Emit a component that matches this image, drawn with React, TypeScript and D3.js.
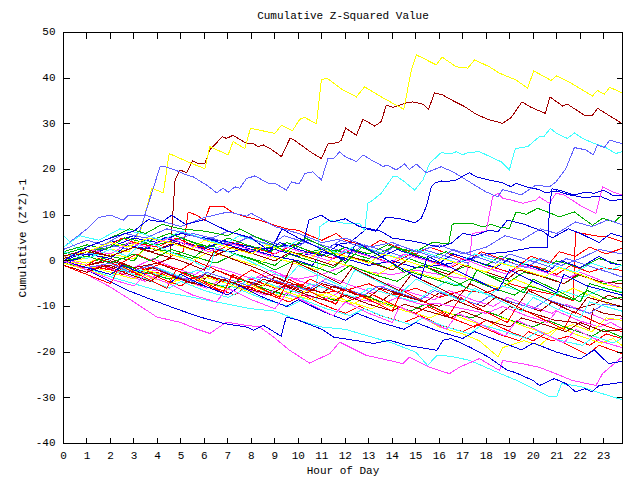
import * as d3 from "d3";
import { useEffect } from "react";

type Pt = [number, number];

// axis values
const HOURS = d3.range(0, 24);
const Y_TICKS = d3.range(-40, 51, 10);
const X_MAX = 23.8;

// series: [hour, cumulative value]
const Y1: Pt[] = [[0,0],[1,0.5],[2,2.5],[2.8,2],[3.33,7.4],[3.76,15.9],[4.25,14.9],[4.5,23.5],[5.46,21.3],[6.02,20.2],[6.23,25],[7.01,23.2],[7.22,26.1],[7.72,24.6],[7.96,29],[8.36,28.6],[9,27.9],[9.28,29.7],[9.75,28.5],[10.06,31],[10.27,31.4],[10.77,30],[10.98,39.6],[11.22,40],[11.9,37.4],[12.47,35.9],[12.82,38.1],[13.46,36.1],[14.02,34.5],[14.49,33.2],[14.81,41.8],[15.02,45.1],[15.3,44.4],[15.87,42.9],[16.12,44.6],[16.72,42.5],[17.21,42.2],[17.5,44],[18.13,42.5],[18.56,41.1],[19.27,39.6],[19.76,37.8],[20.02,41.6],[20.76,39.5],[20.99,40.5],[21.61,38.9],[22.52,36.1],[22.74,37.3],[23.02,36.5],[23.26,38],[23.77,36.8]];
const D1: Pt[] = [[0,0],[1,-1],[2,0],[3,-1.5],[4,-0.5],[4.55,0.5],[4.61,6.7],[4.75,17.7],[4.96,19.9],[5.24,19.3],[5.5,21.9],[5.74,21.3],[6.02,21.3],[6.23,24.3],[6.77,27.2],[6.94,26.8],[7.22,27.5],[7.79,25.7],[8.07,25.7],[8.29,25],[8.5,25.4],[8.8,24.6],[9.28,22.8],[9.64,26.8],[9.78,26.6],[10.56,23.7],[10.98,22.4],[11.26,25.6],[11.69,25.9],[11.83,26.4],[12.01,29.1],[12.47,27.5],[12.75,31],[13.25,29.5],[13.53,30.5],[13.74,34.1],[14.02,33.6],[14.59,34.6],[14.87,34.8],[15.3,34.3],[15.54,33.2],[15.8,36.8],[16.15,36.3],[16.57,35.1],[17.07,33.8],[17.57,32.1],[18.06,31],[18.7,30.1],[19.06,31.4],[19.52,34.8],[19.91,33.6],[20.51,32.3],[20.71,35.9],[21.25,33.9],[21.46,34.3],[22.17,31.9],[22.52,31.9],[22.74,33.4],[23.77,30.1]];
const L1: Pt[] = [[0,1],[1,1.5],[2,3],[2.7,3.5],[3,5],[3.26,6.7],[4.11,20.6],[4.32,20.6],[4.75,19.9],[5.24,18.8],[5.52,18.4],[6.09,16.6],[6.52,14.9],[6.8,15.9],[7.01,15],[7.3,16.2],[7.51,15.9],[7.79,18],[8.15,18.6],[8.71,17],[9,17],[9.49,15.5],[9.71,17.3],[10.03,16.8],[10.27,19.1],[10.62,19.5],[10.98,17.7],[11.26,22.4],[11.5,22.4],[11.76,23.9],[11.97,22.9],[12.47,21.7],[12.75,23.2],[13.1,22.1],[13.6,20.7],[13.8,20.9],[14.17,19.9],[14.52,21.2],[14.73,20],[15.02,21.2],[15.44,19.3],[16.08,20.6],[16.57,19.5],[17.28,17.3],[17.99,15.1],[18.49,14],[18.7,15.6],[19.06,15.1],[19.48,14.4],[20.12,16.6],[20.68,16.2],[20.97,17.3],[21.39,20.2],[21.75,24.8],[22.24,24.3],[22.55,23.2],[22.74,25.4],[23.02,24.8],[23.26,26.4],[23.77,25.7]];
const C1: Pt[] = [[0,5.5],[0.5,3],[1,2],[2,0],[3,-2],[4,-3],[5,-4],[6,-5],[7,-5.5],[8,-6.5],[9,-7],[10,-8],[10.75,-8.7],[10.9,7.4],[11.3,8.9],[12,8.2],[12.6,8.2],[12.82,6.7],[12.96,12.6],[13.17,13.3],[13.53,14.8],[14.02,18.4],[14.2,18.5],[14.52,17.3],[14.95,15.5],[15.3,17.7],[15.58,21.3],[16.08,23.7],[16.5,23.4],[16.72,23.9],[17,23.2],[17.2,23.7],[17.71,23.9],[18.13,22.9],[18.63,21.7],[18.98,19.9],[19.24,24.6],[19.76,25],[20.26,27.2],[20.45,27.2],[20.73,29],[20.99,27.9],[21.46,26.8],[21.75,28],[22.1,26.8],[22.6,25.7],[23.02,25],[23.52,23.5],[23.77,23.9]];
const B1: Pt[] = [[0,0.5],[1,2],[2,1],[3,3],[4,2.5],[5,4],[6,3],[7,2],[8,2.5],[9,1],[10,0],[10.6,-1],[11,2],[11.5,3.5],[12.2,4],[12.9,7],[13.3,6.5],[13.74,9.6],[14.45,9.1],[14.95,8.3],[15.23,9.3],[15.44,11.8],[15.66,16.2],[15.8,17],[16.08,17.5],[16.22,17.3],[16.72,17.7],[17.28,19.3],[17.57,18.4],[18.13,17.7],[18.7,17.1],[19.06,16.2],[19.27,17],[19.69,16.2],[20.26,15.6],[20.51,14.9],[21,15.3],[21.5,14.5],[22.2,13.8],[22.8,14.2],[23.3,13.2],[23.77,13.4]];
const B2: Pt[] = [[0,0],[1,2],[2,4],[3,5.5],[4,4.5],[5,6],[6,5],[7,3.5],[8,2],[9,3],[10.2,3.8],[10.45,8.9],[10.98,10],[11.4,8.5],[12,9.2],[12.6,7.5],[13.5,6.5],[14,5],[15,4.2],[16,3],[16.5,3.8],[17,6],[17.5,5.5],[18.1,6.7],[18.5,6.4],[18.9,8.9],[19.6,8],[20.4,6.5],[20.8,5],[21.5,7],[22,6],[22.8,4],[23.3,6],[23.77,5.3]];
const B3: Pt[] = [[0,-0.5],[1,1],[2,3],[3,5],[4,4],[5,6],[6,5],[7,4],[8,3],[9,2.5],[10,1],[11,2],[12,0.5],[13,-1],[14,0],[15,-1.5],[16,-1],[17,0],[18,1.5],[19,2],[20,3],[20.6,3],[20.7,12],[20.8,15.8],[21.3,15.2],[21.7,14.4],[22.2,15],[22.6,14.8],[23,15.5],[23.4,14.3],[23.77,14.3]];
const G1: Pt[] = [[0,1],[1,2],[2,3],[3,4],[4,3.5],[5,5],[6,3],[7,4],[8,2.5],[9,3],[10,1.5],[11,2.5],[12,2],[13,0.5],[14,3],[15,2],[15.7,4],[16.4,3.8],[16.55,8],[16.72,8.2],[17.42,8.2],[17.85,7.4],[18.2,8],[18.56,7.4],[18.98,7.1],[19.27,10.7],[19.7,10.2],[20.19,11.5],[20.76,10.4],[21.11,9.6],[21.75,10.7],[22.52,7.8],[22.95,9.3],[23.45,8.5],[23.77,10]];
const M1: Pt[] = [[0,0],[1,-1.5],[2,-1],[3,-3],[4,-2],[5,-4],[6,-3.5],[7,-5],[8,-4],[9,-3],[10,-4],[11,-3],[12,-1],[13,-2.5],[14,-3],[15,-2],[16,-3],[17.1,-4],[17.3,0.5],[17.4,6],[18,6.5],[18.27,14],[18.49,14.8],[18.7,13.7],[19.06,13.3],[19.55,12.6],[20.12,13.3],[20.26,14],[20.68,12.6],[20.97,14.8],[21.32,14.4],[22.1,11.8],[22.67,10.4],[22.95,16.2],[23.37,15.1],[23.77,14.4]];
const C2: Pt[] = [[0,-0.5],[1,-2],[2,-3.5],[3,-5],[4,-6.5],[5,-7.5],[6,-8.5],[7,-9.5],[8,-10.5],[9,-11],[10,-13],[11,-14.5],[12,-15],[13,-16.5],[14,-18],[15,-20],[15.5,-22.9],[15.9,-20.7],[16.5,-20.9],[17.3,-21.8],[18.6,-24.7],[19.3,-26.2],[19.9,-27.7],[20.7,-29.8],[21,-29.8],[21.2,-26.9],[22,-27.5],[22.95,-29.1],[23.77,-30.4]];
const B5: Pt[] = [[0,0],[1,-2],[2.7,-6.4],[3.8,-8.6],[4.8,-10.5],[5.8,-12.3],[6.9,-13.8],[7.8,-14.5],[8.1,-15.2],[8.5,-14.1],[9.27,-16.5],[9.48,-12.3],[10,-13],[11,-15],[11.5,-16.7],[12.5,-17.5],[13.2,-18.1],[13.9,-17.4],[14.6,-18.5],[15.9,-19.6],[16.15,-17.4],[16.5,-17],[17.3,-18.9],[18.1,-21.1],[18.9,-24],[19.2,-24.4],[20,-26.2],[20.26,-27.3],[20.9,-25.8],[21.4,-26.9],[21.8,-28.7],[22.2,-28],[22.5,-28.7],[22.8,-27.3],[23.77,-26.6]];
const M4: Pt[] = [[0,-1],[1,-3],[1.98,-5.7],[3,-9],[3.97,-12.3],[5,-13.5],[5.7,-15],[6.23,-15.9],[6.94,-13.4],[7.6,-14],[8.36,-14.5],[8.9,-16.5],[9.63,-19.6],[10.48,-22.4],[11.34,-20.3],[11.76,-17.8],[12.89,-20.7],[13.6,-21.5],[14.45,-22.5],[14.73,-21.1],[15.58,-23.3],[16.43,-24.7],[16.86,-23.3],[17.71,-21.4],[18.56,-24],[18.7,-21.8],[19.5,-22.5],[20.26,-23.3],[21,-24.8],[21.67,-26.2],[22.67,-27.3],[22.95,-24.7],[23.77,-21.1]];
const R1: Pt[] = [[0,0],[1,-1],[2,-2],[3,-2.5],[4,-1],[4.6,1],[5.1,2],[5.2,6.7],[5.31,10.7],[5.67,10],[6.02,8.8],[6.23,12],[6.8,12],[7.22,10.5],[7.79,9.6],[8.36,8.9],[9,7.8],[9.5,7],[10,6.7],[10.5,5.5],[11,4.5],[11.6,6],[12,4.5],[13,3],[13.5,4.5],[14.2,3],[15,1.5],[15.6,3],[16.4,1.5],[17.2,0],[17.8,2],[18.6,0.5],[19.4,-1],[19.9,1],[20.7,-0.5],[21.1,2],[21.8,1],[22.4,3],[23.1,1.5],[23.77,2.7]];
const L2: Pt[] = [[0,3],[1,7],[1.5,9.5],[2,10],[2.55,8.9],[2.76,10],[3.5,10],[4.3,8.5],[5,7.5],[6,9.5],[7,10.7],[7.8,9.8],[8,10.4],[9,7.5],[10,6],[11,4],[12,5],[13,3],[14,4],[15,2],[16,3.5],[17,1.5],[18,3],[18.8,5.5],[19.5,4.5],[20.3,7],[21,6],[21.8,8.5],[22.5,7.5],[23.2,9],[23.77,7.9]];
const R2: Pt[] = [[0,-0.5],[1,-2],[2,-1],[3,-3],[4,-2.5],[5,-4.5],[6,-3],[7,-5],[8,-4],[9,-6],[10,-5],[11,-7],[12,-6.5],[13,-5],[14,-7.5],[15,-6],[16,-8],[17,-6.5],[18,-7],[19,-5],[20,-6.5],[21,-7.5],[21.7,-8.7],[21.8,6.3],[22.6,5.5],[23.2,5.2],[23.77,4.2]];
const R3: Pt[] = [[0,0.5],[1,2],[2,3.5],[2.5,5],[3,4],[4,3],[4.8,5],[5.5,3.5],[6.5,2],[7.2,4],[8,3],[9,1.5],[9.8,3.5],[10.5,2],[11.5,0.5],[12.3,2.5],[13,1],[14,-0.5],[14.8,1.5],[15.6,0],[16.5,-1.5],[17.2,0.5],[18,-1],[19,-2.5],[19.5,-0.5],[20.3,-1.5],[21,-3],[21.6,-1],[22.4,-2.5],[23,-1.5],[23.77,-2.1]];
const R4: Pt[] = [[0,-1],[1,-2.5],[1.6,-1],[2.5,-3],[3.3,-1.5],[4.2,-4],[5,-5.5],[5.6,-3.5],[6.5,-6],[7.3,-7.5],[7.8,-5.5],[8.8,-7.5],[9.6,-9],[10.2,-7.5],[11,-9.5],[12,-11.5],[12.6,-10],[13.5,-12],[14.5,-13.5],[15.2,-12],[16,-14],[17,-15.5],[17.6,-14],[18.5,-16],[19.4,-17.5],[19.8,-15.5],[20.8,-17.5],[21.5,-16.5],[22.4,-18.5],[23.1,-16],[23.77,-17]];
const R5: Pt[] = [[0,0],[0.8,-1.5],[1.5,0.5],[2.3,-1],[3.1,1.5],[4,-0.5],[5,-2],[5.6,0],[6.5,-2],[7.4,-4],[8,-2],[9,-4.5],[10,-6],[10.5,-4],[11.5,-6.5],[12.3,-8.5],[13,-7],[14,-9.5],[15,-11.5],[15.5,-10],[16.5,-12.5],[17.5,-14.5],[18,-13],[19,-15.5],[20,-17.5],[20.5,-16],[21.5,-18.5],[22.3,-20.5],[22.8,-18.5],[23.77,-20.3]];
const R6: Pt[] = [[0,-1],[1,-3],[2,-5],[2.4,-1],[3.4,-3.5],[4.4,-6],[4.8,-2],[5.8,-4.5],[6.8,-7],[7.2,-3],[8.2,-5.5],[9.2,-8],[9.6,-4],[10.6,-7],[11.6,-9.5],[12,-6],[13,-8.5],[14,-11],[14.4,-6.5],[15.4,-9],[16.4,-12],[16.9,-8],[17.9,-11],[18.9,-13.5],[19.3,-10],[20.3,-12.5],[21.3,-15],[21.7,-11],[22.7,-13.5],[23.77,-15.5]];
const G2: Pt[] = [[0,0.5],[1,-0.5],[2,1],[3,0],[3.5,3],[4.5,2],[5.5,0.5],[6.2,3.5],[7,2],[8,0.5],[9,-1],[9.6,1.5],[10.5,0],[11.5,-1.5],[12,1],[13,0],[14,-2],[14.7,0.5],[15.5,-1],[16.5,-2.5],[17.2,-1],[18,-3],[19,-4.5],[19.6,-2.5],[20.5,-3.5],[21.3,-5],[22,-3],[23,-5],[23.77,-4.2]];
const G3: Pt[] = [[0,-0.5],[1,-1.5],[2,-3],[2.6,-1],[3.5,-2.5],[4.5,-4],[5.2,-2.5],[6,-4.5],[7,-6],[7.5,-4],[8.5,-6],[9.5,-7.5],[10,-5.5],[11,-8],[12,-9],[12.8,-7.5],[13.8,-9.5],[14.8,-11],[15.4,-9.5],[16.4,-11.5],[17.4,-12.5],[18,-11],[19,-13],[20,-14.5],[20.6,-13],[21.6,-15],[22.5,-16.5],[23,-15],[23.77,-16.7]];
const G4: Pt[] = [[0,2],[1,3.5],[1.8,2.5],[2.6,5],[3.5,4],[4.5,6],[5.3,4.5],[6.2,3],[7,5],[7.8,3.5],[8.8,2],[9.5,4],[10.3,2.5],[11.2,1],[12,3],[13,1.5],[13.8,3.5],[14.6,2],[15.5,0.5],[16.3,2],[17.2,0.5],[18,-1],[18.6,1],[19.5,-0.5],[20.4,-2],[21,0],[22,-1.5],[22.8,0.5],[23.77,-1]];
const G5: Pt[] = [[0,0],[1,1],[2,-0.5],[3,1.5],[3.7,0],[4.6,2.5],[5.5,1],[6.5,-0.5],[7.3,1.5],[8.2,0],[9,-2],[9.8,0],[10.8,-1.5],[11.6,-3],[12.2,-1],[13.2,-3],[14.2,-4.5],[14.8,-2.5],[15.8,-4],[16.7,-5.5],[17.3,-4],[18.3,-6],[19.2,-7.5],[19.8,-5.5],[20.8,-7],[21.7,-8.5],[22.3,-6.5],[23.2,-8.5],[23.77,-8]];
const G6: Pt[] = [[0,1.5],[1,3],[2,5],[2.8,7],[3.5,6],[4.2,8],[5,7],[6,6.5],[7,5.5],[7.5,7],[8.5,4.5],[9.5,2],[10.3,5],[11.3,2.5],[12,-0.5],[12.7,3],[13.7,0.5],[14.5,-2.5],[15.3,-1],[16.3,-3.5],[17.2,-6],[17.6,-2],[18.6,-4.5],[19.6,-7],[20,-4],[21,-6.5],[22,-9],[22.4,-5],[23.77,-7]];
const B4: Pt[] = [[0,-0.5],[1,1.5],[2,0.5],[2.7,3.5],[3.5,2.5],[4.3,5],[5,4],[6,2.5],[6.8,4.5],[7.7,3],[8.6,1.5],[9.2,4],[10,2.5],[11,1],[11.7,3.5],[12.5,2],[13.4,0.5],[14.2,2.5],[15,1],[16,-0.5],[16.6,1.5],[17.5,0],[18.4,-1.5],[19,0.5],[19.8,-1],[20.6,-2.5],[21.2,0],[22,-1.5],[22.8,1],[23.3,-0.5],[23.77,-1]];
const B6: Pt[] = [[0,0],[1,-1.5],[2,-3],[2.5,-1],[3.5,-3],[4.5,-5],[5,-3],[6,-5.5],[7,-7.5],[7.5,-5.5],[8.5,-8],[9.5,-10],[10,-8.5],[11,-11],[12,-13],[12.5,-11.5],[13.5,-13.5],[14.5,-15],[15,-13.5],[16,-15.5],[17,-17],[17.5,-15.5],[18.5,-17.5],[19.5,-19.5],[20,-18],[21,-20],[22,-21.5],[22.6,-19.5],[23.2,-22.5],[23.77,-22]];
const B7: Pt[] = [[0,0],[1,3],[2,5],[3,6.5],[3.6,9],[4.2,8.5],[4.6,10],[5.2,8],[6,9],[7,6.5],[8,5],[8.8,2],[9.3,7],[10,5],[11,2.5],[12,0],[12.5,4],[13.5,1],[14.5,-2],[15.2,-4],[15.5,1],[16.5,-1.5],[17.5,-4],[18.5,-6.5],[19,-2],[20,-4.5],[21,-7],[21.3,-3],[22.3,-5.5],[23.77,-7.5]];
const M2: Pt[] = [[0,0.5],[1,-1],[2,0.5],[3,-1.5],[3.8,0.5],[4.7,-1.5],[5.6,-3],[6.2,-1],[7.2,-2.5],[8.1,-4],[8.8,-2],[9.8,-4],[10.7,-5.5],[11.3,-3.5],[12.3,-5.5],[13.2,-7],[13.8,-5],[14.8,-7],[15.8,-8.5],[16.4,-6.5],[17.4,-8.5],[18.3,-10],[18.9,-8],[19.9,-10],[20.8,-11.5],[21.4,-9.5],[22.4,-11.5],[23.1,-13],[23.77,-12.7]];
const M3: Pt[] = [[0,-1],[1,-2.5],[1.7,-1],[2.6,-3],[3.5,-4.5],[4.2,-2.5],[5.2,-4.5],[6.1,-6],[6.7,-4],[7.7,-6],[8.6,-7.5],[9.2,-5.5],[10.2,-7.5],[11.1,-8.5],[11.7,-7],[12.7,-8.5],[13.6,-9.5],[14.2,-8],[15.2,-9.5],[16,-9.4],[17,-10.5],[18,-11.5],[18.7,-10],[19.7,-12],[20.6,-13.5],[21,-11],[21.9,-13],[22.8,-14.5],[23.3,-13.5],[23.77,-14.8]];
const M5: Pt[] = [[0,1],[1,2.5],[2,1.5],[2.8,4],[3.6,3],[4.5,5],[5.3,3.5],[6.2,2],[7,4],[7.9,2.5],[8.8,1],[9.5,3],[10.4,1.5],[11.3,0],[12,2.5],[13,1],[13.9,-0.5],[14.5,1.5],[15.5,0],[16.4,-1.5],[17,0.5],[18,-1.5],[18.9,-3],[19.5,-1],[20.5,-2.5],[21.4,-4],[22,-2.5],[23,-4.5],[23.77,-6]];
const M6: Pt[] = [[0,0],[1,-2],[2,-4],[3,-5.5],[3.5,-3],[4.5,-5],[5.5,-7.5],[6.5,-9],[7,-6],[8,-8.5],[9,-10.5],[9.5,-7],[10.5,-9.5],[11.5,-12],[12,-9],[13,-11.5],[14,-13.5],[14.3,-10],[15.3,-12.5],[16.3,-15],[16.8,-11.5],[17.8,-14],[18.8,-16.5],[19.3,-13],[20.3,-15.5],[21.3,-18],[21.8,-15],[22.8,-17.5],[23.77,-19]];
const C3: Pt[] = [[0,0],[1,-1.5],[2,-0.5],[3,-2.5],[4,-1.5],[5,-3.5],[5.7,-2],[6.6,-4],[7.5,-5.5],[8,-3.5],[9,-5.5],[10,-7],[10.5,-5],[11.5,-6.5],[12.4,-8],[13,-6],[14,-7.5],[15,-9],[15.5,-7],[16.3,-4.5],[17.2,-6],[18.1,-7.5],[18.7,-5.5],[19.7,-7],[20.6,-8.5],[21.2,-6.5],[22.1,-8],[23,-6],[23.77,-6.8]];
const C4: Pt[] = [[0,3],[0.7,5.5],[1.5,4.5],[2.4,7],[3.3,6],[4.2,4.5],[5,6.5],[5.9,5],[6.8,3.5],[7.5,5.5],[8.4,4],[9.3,2.5],[10,4.5],[10.9,3],[11.8,1.5],[12.5,3.5],[13.4,2],[14.3,0.5],[15,2.5],[15.9,1],[16.8,-0.5],[17.5,1.5],[18.4,0],[19.3,-1.5],[20,0.5],[20.9,-1],[21.8,-2.5],[22.5,-0.5],[23.3,-2],[23.77,-1]];
const C5: Pt[] = [[0,0],[1,-1.5],[2,-3.5],[2.5,-2],[3.5,-4],[4.5,-6],[5,-4.5],[6,-6.5],[7,-8],[7.6,-6.5],[8.6,-8.5],[9.6,-10],[10.2,-8.5],[11.2,-10.5],[12.2,-12],[12.8,-10.5],[13.8,-12.5],[14.8,-14],[15.3,-12.5],[16.3,-14.5],[17.3,-16],[17.8,-14],[18.8,-15.5],[19.7,-17],[20.2,-15.5],[21.2,-17.5],[22.1,-18.5],[22.6,-16.5],[23.4,-18],[23.77,-17]];
const C6: Pt[] = [[0,2],[1,0.5],[2,2.5],[2.7,1],[3.5,4.5],[4.5,2],[5.5,0],[6.2,-2],[6.5,3],[7.5,1],[8.5,-1.5],[9.5,-4],[10,-1],[11,-3.5],[12,-6],[12.4,-2],[13.4,-4.5],[14.4,-7],[15,-4],[16,-6.5],[17,-9],[17.5,-6],[18.5,-8.5],[19.5,-11],[20,-8],[21,-10.5],[22,-12.5],[22.4,-9],[23.77,-11]];
const D2: Pt[] = [[0,0],[1,-1],[2,0.5],[3,-1.5],[4,-0.5],[5,-2.5],[6,-4],[6.5,-2],[7.5,-4],[8.5,-5.5],[9,-3.5],[10,-5.5],[11,-7],[11.5,-5.5],[12.5,-7.5],[13.5,-9],[14,-7],[15,-8.5],[16,-10],[16.6,-8.5],[17.6,-10.5],[18.5,-12],[19,-10],[20,-11.5],[20.9,-13],[21.8,-13.5],[22.4,-15],[22.55,-10.5],[23,-11.5],[23.77,-12.1]];
const D3: Pt[] = [[0,-0.5],[1,-2],[2,-1],[3,-3],[3.8,-1.5],[4.7,-3.5],[5.5,-5],[6,-3],[7,-4.5],[8,-6],[8.5,-4],[9.5,-5.5],[10.4,-7],[11,-5],[12,-6.5],[13,-8],[13.5,-6],[14.5,-7.5],[15.4,-9],[16,-7],[17,-8.5],[17.9,-10],[18.4,-8],[19.4,-9.5],[20.3,-11],[20.8,-9],[21.8,-10.5],[22.6,-9.5],[23.2,-7.5],[23.77,-8.5]];
const D4: Pt[] = [[0,0.5],[1,2],[2,1],[3,3],[3.8,2],[4.7,4],[5.5,2.5],[6.4,1],[7.2,3],[8.1,1.5],[9,0],[9.7,2],[10.6,0.5],[11.5,-1],[12.2,1],[13.1,-0.5],[14,-2],[14.6,0],[15.5,-1.5],[16.4,-3],[17,-1],[18,-2.5],[18.9,-4],[19.4,-2],[20.4,-3.5],[21.3,-5],[21.9,-3],[22.8,-4.5],[23.77,-5]];
const D5: Pt[] = [[0,-1],[1,-2.5],[1.8,-1],[2.8,-3],[3.7,-4.5],[4.3,-2.5],[5.3,-4.5],[6.3,-6],[6.8,-4],[7.8,-6],[8.8,-7.5],[9.4,-5.5],[10.4,-7.5],[11.4,-9],[12,-7.5],[13,-9.5],[14,-11],[14.5,-9.5],[15.5,-11],[16.5,-12.5],[17,-11],[18,-13],[19,-14.5],[19.5,-12.5],[20.5,-14],[21.4,-15.5],[22,-13.5],[23,-15.5],[23.77,-15]];
const D6: Pt[] = [[0,1],[1,2.5],[2,1],[3,3],[4,1.5],[5,0],[6,-2],[6.4,2],[7.4,0],[8.4,-2],[9.4,-4.5],[9.8,0],[10.8,-2.5],[11.8,-5],[12.3,-1.5],[13.3,-4],[14.3,-6.5],[14.8,-3],[15.8,-5.5],[16.8,-8],[17.3,-5],[18.3,-7.5],[19.3,-10],[19.8,-6.5],[20.8,-9],[21.8,-11.5],[22.3,-8],[23.77,-10]];
const Y2: Pt[] = [[0,0.5],[1,-0.5],[2,1.5],[3,0.5],[3.6,3],[4.5,1.5],[5.5,0],[6.2,2],[7.2,0.5],[8.2,-1],[8.8,1],[9.8,-0.5],[10.8,-2],[11.4,0],[12.4,-1.5],[13.4,-3],[14,-1],[15,-2.5],[16,-4],[16.6,-2.5],[17.6,-4.5],[18.6,-6],[19.2,-4],[20.2,-6],[21.1,-7.5],[21.7,-6],[22.6,-8],[23.2,-9.5],[23.77,-10.1]];
const Y3: Pt[] = [[0,-0.5],[1,-2],[2,-3.5],[2.6,-1.5],[3.6,-3.5],[4.6,-5],[5.2,-3],[6.2,-5],[7.2,-6.5],[7.8,-5],[8.8,-7],[9.8,-8.5],[10.3,-6.5],[11.3,-8],[12.3,-9.5],[12.9,-8],[13.9,-10],[14.9,-11.5],[15.5,-13],[16,-14.5],[17,-16],[17.7,-17.5],[18.5,-21],[18.7,-19],[19.6,-17.5],[20.3,-18.5],[21,-15],[21.7,-14],[22.5,-15.5],[23.1,-12.5],[23.77,-13]];
const Y4: Pt[] = [[0,0],[1,-1],[2,-2.5],[3,-4],[3.5,-2],[4.5,-3.5],[5.5,-5.5],[6,-3.5],[7,-5],[8,-7],[8.6,-5],[9.6,-7],[10.5,-8.5],[11.2,-7],[12.2,-9],[13.1,-10.5],[13.7,-9],[14.7,-11],[15.6,-12.5],[16.2,-11],[17.2,-13],[18.1,-14.5],[18.7,-12.5],[19.7,-14.5],[20.6,-16],[21.1,-14.5],[22,-16.5],[22.9,-18],[23.4,-17],[23.77,-18.5]];
const Y5: Pt[] = [[0,1],[1,2],[2,4],[2.7,3],[3.6,5],[4.5,4],[5.4,2.5],[6,4.5],[7,3],[8,1.5],[8.6,3.5],[9.6,2],[10.5,0.5],[11,2.5],[12,1],[13,-0.5],[13.6,1.5],[14.6,0],[15.5,-1.5],[16.1,0.5],[17.1,-1],[18,-2.5],[18.6,-0.5],[19.6,-2],[20.5,-3.5],[21.1,-1.5],[22,-3],[22.9,-5],[23.77,-6]];
const L3: Pt[] = [[0,0.5],[1,2],[2,3.5],[2.8,2.5],[3.7,5],[4.6,4],[5.5,6],[6.3,5],[7.2,3.5],[8,5.5],[8.9,4],[9.8,2.5],[10.4,4.5],[11.3,3],[12.2,1.5],[12.8,3.5],[13.8,2],[14.7,0.5],[15.3,2.5],[16.3,1],[17.2,-0.5],[17.8,1.5],[18.8,0],[19.7,-1.5],[20.3,0.5],[21.2,-1],[22,0.5],[22.8,2.5],[23.77,1.5]];
const L4: Pt[] = [[0,2.5],[1,4.5],[1.7,3.5],[2.6,6],[3.5,5],[4.4,7],[5.2,6],[6.1,4.5],[7,6.5],[7.9,5],[8.8,3.5],[9.4,5.5],[10.3,4],[11.2,2.5],[11.8,4.5],[12.7,3],[13.6,1.5],[14.2,3.5],[15.1,2],[16,0.5],[16.6,2.5],[17.5,1],[18.4,-0.5],[19,1.5],[19.9,0],[20.8,-1.5],[21.4,0.5],[22.3,-1],[23.2,-2.5],[23.77,-3.5]];
const L5: Pt[] = [[0,0],[1,-1.5],[2,-0.5],[2.8,-2.5],[3.7,-1],[4.6,-3],[5.5,-4.5],[6.1,-2.5],[7,-4],[7.9,-5.5],[8.5,-3.5],[9.5,-5],[10.4,-6.5],[11,-4.5],[11.9,-6],[12.8,-7.5],[13.4,-5.5],[14.3,-7],[15.2,-8.5],[15.8,-6.5],[16.7,-8],[17.6,-9.5],[18.2,-7.5],[19.1,-9],[20,-10.5],[20.6,-8.5],[21.5,-10],[22.4,-11.5],[23,-9.5],[23.77,-10]];

const palette: Record<string, string> = {
  red: "#ff0000",
  green: "#00b000",
  blue: "#0000e0",
  magenta: "#ff40ff",
  cyan: "#40ffff",
  darkred: "#a00000",
  yellow: "#ffff00",
  lightblue: "#6060ff",
};

const groups: { color: string; series: Pt[][] }[] = [
  { color: "red", series: [R1, R2, R3, R4, R5, R6] },
  { color: "green", series: [G1, G2, G3, G4, G5, G6] },
  { color: "blue", series: [B1, B2, B3, B4, B5, B6, B7] },
  { color: "magenta", series: [M1, M2, M3, M4, M5, M6] },
  { color: "cyan", series: [C1, C2, C3, C4, C5, C6] },
  { color: "darkred", series: [D1, D2, D3, D4, D5, D6] },
  { color: "yellow", series: [Y1, Y2, Y3, Y4, Y5] },
  { color: "lightblue", series: [L1, L2, L3, L4, L5] },
];

const FONT = "'Liberation Mono', 'DejaVu Sans Mono', monospace";

export default function App() {
  useEffect(() => {
    document.body.style.margin = "0";
  }, []);

  const width = 640;
  const height = 480;
  const left = 63.5;
  const right = 622.5;
  const top = 32.5;
  const bottom = 443.5;
  const tick = 6;

  const x = d3.scaleLinear().domain([0, X_MAX]).range([left, right]);
  const y = d3.scaleLinear().domain([-40, 50]).range([bottom, top]);
  const line = d3
    .line<Pt>()
    .x((d) => x(d[0]))
    .y((d) => y(d[1]));

  // interleave colours the way the plotting program cycles them
  const maxLen = d3.max(groups, (g) => g.series.length) ?? 0;
  const drawn: { key: string; color: string; pts: Pt[] }[] = [];
  for (let i = 0; i < maxLen; i++) {
    groups.forEach((g) => {
      if (g.series[i]) drawn.push({ key: `${g.color}-${i}`, color: palette[g.color], pts: g.series[i] });
    });
  }

  return (
    <svg width={width} height={height} style={{ display: "block", background: "#fff" }}>
      <g fill="none" strokeWidth={1} shapeRendering="crispEdges">
        {drawn.map((s) => (
          <path key={s.key} d={line(s.pts) ?? ""} stroke={s.color} />
        ))}
      </g>

      <g stroke="#000" strokeWidth={1} shapeRendering="crispEdges" fill="none">
        <rect x={left} y={top} width={right - left} height={bottom - top} />
        {HOURS.map((h) => (
          <g key={`xt${h}`}>
            <line x1={x(h)} x2={x(h)} y1={bottom} y2={bottom - tick} />
            <line x1={x(h)} x2={x(h)} y1={top} y2={top + tick} />
          </g>
        ))}
        {Y_TICKS.map((v) => (
          <g key={`yt${v}`}>
            <line x1={left} x2={left + tick} y1={y(v)} y2={y(v)} />
            <line x1={right} x2={right - tick} y1={y(v)} y2={y(v)} />
          </g>
        ))}
      </g>

      <g fontFamily={FONT} fontSize={11} fill="#000">
        {HOURS.map((h) => (
          <text key={`xl${h}`} x={x(h)} y={bottom + 13} textAnchor="middle" dominantBaseline="middle">
            {h}
          </text>
        ))}
        {Y_TICKS.map((v) => (
          <text key={`yl${v}`} x={left - 8} y={y(v)} textAnchor="end" dominantBaseline="middle">
            {v}
          </text>
        ))}
        <text x={(left + right) / 2} y={16} textAnchor="middle" dominantBaseline="middle">
          Cumulative Z-Squared Value
        </text>
        <text x={(left + right) / 2} y={471} textAnchor="middle" dominantBaseline="middle">
          Hour of Day
        </text>
        <text
          transform={`translate(23,${(top + bottom) / 2}) rotate(-90)`}
          textAnchor="middle"
          dominantBaseline="middle"
        >
          Cumulative (Z*Z)-1
        </text>
      </g>
    </svg>
  );
}
